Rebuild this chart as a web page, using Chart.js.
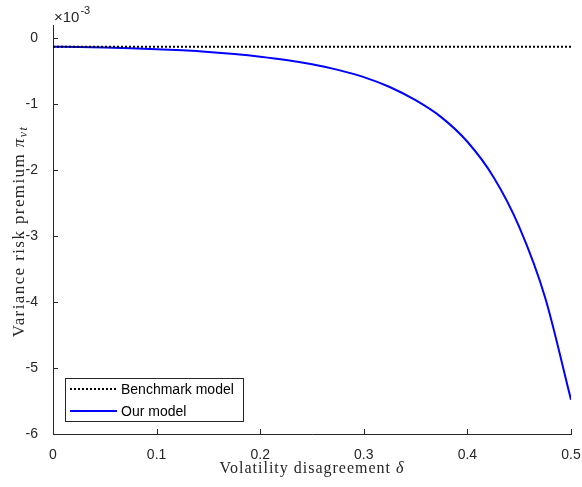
<!DOCTYPE html>
<html>
<head>
<meta charset="utf-8">
<script src="https://cdn.jsdelivr.net/npm/chart.js@4"></script>
<style>
  html, body { margin: 0; padding: 0; background: #fff; }
  #wrap { width: 582px; height: 487px; }
</style>
</head>
<body>
<div id="wrap"><canvas id="vrpChart" width="582" height="487"></canvas></div>
<script>
// volatility disagreement (x) and variance risk premium (x 1e-3)
const deltaVals = [0, 0.025, 0.05, 0.075, 0.1, 0.125, 0.15, 0.175, 0.2, 0.225, 0.25, 0.275, 0.3, 0.325, 0.35, 0.375, 0.4, 0.425, 0.45, 0.475, 0.5];
const ourModelVals = [-0.13, -0.135, -0.142, -0.152, -0.166, -0.184, -0.208, -0.24, -0.28, -0.33, -0.395, -0.48, -0.59, -0.74, -0.94, -1.20, -1.57, -2.10, -2.86, -3.93, -5.48];
const benchmarkVals = deltaVals.map(function () { return -0.13; });
const xTicks = [0, 0.1, 0.2, 0.3, 0.4, 0.5];
const yTicks = [-6, -5, -4, -3, -2, -1, 0];

const axisColor = "#262626";
const tickFont = { family: "Liberation Sans, Arial, sans-serif", size: 14 };

function toPoints(ys) {
  return deltaVals.map(function (x, i) { return { x: x, y: ys[i] }; });
}

// MATLAB-style inward ticks, serif axis titles, exponent and legend box
const decorations = {
  id: "decorations",
  afterDraw(chart) {
    const ctx = chart.ctx;
    const area = chart.chartArea;
    const xs = chart.scales.x, ys = chart.scales.y;
    ctx.save();
    ctx.strokeStyle = axisColor;
    ctx.lineWidth = 1;
    ctx.beginPath();
    xTicks.forEach(function (v) {
      const px = Math.round(xs.getPixelForValue(v)) + 0.5;
      ctx.moveTo(px, area.bottom);
      ctx.lineTo(px, area.bottom - 5);
    });
    yTicks.forEach(function (v) {
      const py = Math.round(ys.getPixelForValue(v)) + 0.5;
      ctx.moveTo(area.left, py);
      ctx.lineTo(area.left + 5, py);
    });
    ctx.stroke();

    // exponent label
    ctx.fillStyle = axisColor;
    ctx.textBaseline = "alphabetic";
    ctx.textAlign = "left";
    ctx.font = "15px Liberation Sans, Arial, sans-serif";
    ctx.fillText("\u00d710", area.left + 1, 22);
    const w = ctx.measureText("\u00d710").width;
    ctx.font = "11px Liberation Sans, Arial, sans-serif";
    ctx.fillText("-3", area.left + 2 + w, 14);

    // x title
    const serif = "Liberation Serif, DejaVu Serif, serif";
    ctx.letterSpacing = "1px";
    ctx.font = "16px " + serif;
    const t1 = "Volatility disagreement ";
    const t1w = ctx.measureText(t1).width;
    ctx.font = "italic 16px " + serif;
    const dw = ctx.measureText("\u03b4").width;
    let sx = (area.left + area.right) / 2 - (t1w + dw) / 2;
    ctx.font = "16px " + serif;
    ctx.fillText(t1, sx, 473);
    ctx.font = "italic 16px " + serif;
    ctx.fillText("\u03b4", sx + t1w, 473);

    // y title (rotated)
    ctx.save();
    ctx.translate(24, (area.top + area.bottom) / 2 + 2);
    ctx.rotate(-Math.PI / 2);
    ctx.letterSpacing = "1.4px";
    ctx.font = "17px " + serif;
    const t2 = "Variance risk premium ";
    const t2w = ctx.measureText(t2).width;
    ctx.font = "italic 17px " + serif;
    const pw = ctx.measureText("\u03c0").width;
    ctx.font = "italic 12px " + serif;
    const sw = ctx.measureText("vt").width;
    let sy = -(t2w + pw + sw) / 2;
    ctx.font = "17px " + serif;
    ctx.fillText(t2, sy, 0);
    ctx.font = "italic 17px " + serif;
    ctx.fillText("\u03c0", sy + t2w, 0);
    ctx.font = "italic 12px " + serif;
    ctx.fillText("vt", sy + t2w + pw, 3);
    ctx.restore();
    ctx.letterSpacing = "0px";

    // legend
    const lx = area.left + 12, ly = area.bottom - 56, lw = 178, lh = 43;
    ctx.fillStyle = "#fff";
    ctx.fillRect(lx, ly, lw, lh);
    ctx.strokeStyle = axisColor;
    ctx.lineWidth = 1;
    ctx.strokeRect(lx + 0.5, ly + 0.5, lw, lh);
    ctx.font = "14px Liberation Sans, Arial, sans-serif";
    ctx.textBaseline = "middle";
    chart.data.datasets.forEach(function (ds, i) {
      const yy = ly + 11 + i * 22;
      ctx.save();
      ctx.strokeStyle = ds.borderColor;
      ctx.lineWidth = ds.borderWidth;
      ctx.setLineDash(ds.borderDash || []);
      ctx.beginPath();
      ctx.moveTo(lx + 5, yy);
      ctx.lineTo(lx + 52, yy);
      ctx.stroke();
      ctx.restore();
      ctx.fillStyle = "#000";
      ctx.fillText(ds.label, lx + 56, yy + 1);
    });
    ctx.restore();
  }
};

new Chart(document.getElementById("vrpChart"), {
  type: "line",
  data: {
    datasets: [
      {
        label: "Benchmark model",
        data: toPoints(benchmarkVals),
        borderColor: "#000000",
        borderWidth: 2,
        borderDash: [2, 2],
        pointRadius: 0,
        fill: false,
      },
      {
        label: "Our model",
        data: toPoints(ourModelVals),
        borderColor: "#0000ff",
        borderWidth: 2,
        pointRadius: 0,
        cubicInterpolationMode: "monotone",
        fill: false,
      },
    ],
  },
  options: {
    responsive: false,
    animation: false,
    layout: { padding: { left: 0, right: 11, top: 25, bottom: 0 } },
    plugins: { legend: { display: false }, tooltip: { enabled: false } },
    scales: {
      x: {
        type: "linear",
        min: 0,
        max: 0.5,
        afterBuildTicks: (s) => { s.ticks = xTicks.map((v) => ({ value: v })); },
        afterFit: (s) => { s.height = 53; s.paddingRight = 0; s.paddingLeft = 0; },
        grid: { display: false },
        border: { display: true, color: axisColor, width: 1 },
        ticks: { color: axisColor, font: tickFont, padding: 5, maxRotation: 0 },
      },
      y: {
        type: "linear",
        min: -6,
        max: 0.2,
        afterBuildTicks: (s) => { s.ticks = yTicks.map((v) => ({ value: v })); },
        afterFit: (s) => { s.width = 53; s.paddingTop = 0; s.paddingBottom = 0; },
        grid: { display: false },
        border: { display: true, color: axisColor, width: 1 },
        ticks: { color: axisColor, font: tickFont, padding: 7 },
      },
    },
  },
  plugins: [decorations],
});
</script>
</body>
</html>
